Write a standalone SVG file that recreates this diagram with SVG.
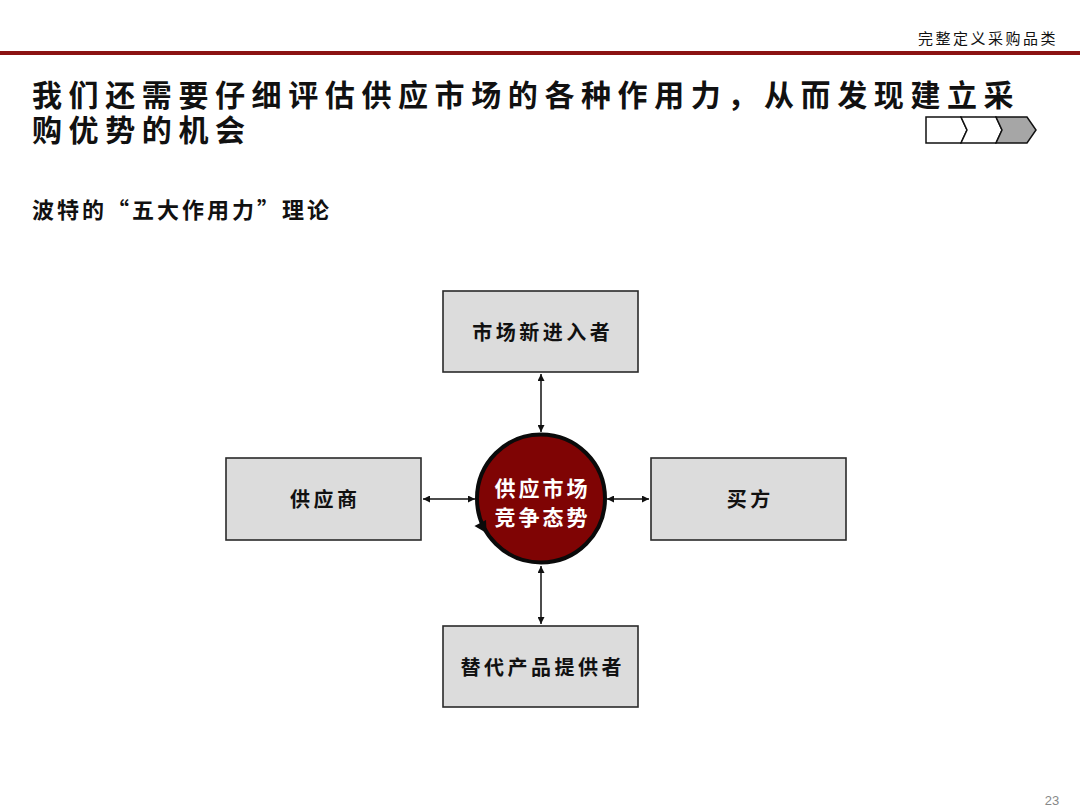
<svg xmlns="http://www.w3.org/2000/svg" width="1080" height="810" viewBox="0 0 1080 810">
<style>
.cjk{font-family:"Noto Sans CJK SC","Noto Sans CJK JP",sans-serif;font-weight:bold;fill:#111}
.box{fill:#dcdcdc;stroke:#2a2a2a;stroke-width:1.6}
.lbl{font-size:20px;letter-spacing:3.5px}
.conn{stroke:#111;stroke-width:1.5;fill:none;marker-start:url(#ah);marker-end:url(#ah)}
</style>
<defs>
<marker id="ah" viewBox="0 0 10 10" refX="10" refY="5" markerWidth="7" markerHeight="7" markerUnits="userSpaceOnUse" orient="auto-start-reverse">
<path d="M0,0 L10,5 L0,10 z" fill="#111"/>
</marker>
</defs>
<rect width="1080" height="810" fill="#fff"/>
<g id="header">
<text class="cjk" x="918" y="44" font-size="15" style="font-weight:normal;letter-spacing:2.5px">完整定义采购品类</text>
<rect x="0" y="51" width="1080" height="4" fill="#8b1212"/>
</g>
<g id="title">
<text class="cjk" x="32" y="106" font-size="30" letter-spacing="6.6">我们还需要仔细评估供应市场的各种作用力，从而发现建立采</text>
<text class="cjk" x="32" y="141" font-size="30" letter-spacing="6.6">购优势的机会</text>
</g>
<g id="progress" stroke="#111" stroke-width="1.5">
<path d="M926,117 L961,117 L967,130 L961,143 L926,143 Z" fill="#fff"/>
<path d="M961,117 L996,117 L1002,130 L996,143 L961,143 L967,130 Z" fill="#fff"/>
<path d="M996,117 L1027,117 L1036,130 L1027,143 L996,143 L1002,130 Z" fill="#a6a6a6"/>
</g>
<g id="subtitle">
<text class="cjk" x="32" y="218" font-size="22" letter-spacing="3">波特的“五大作用力”理论</text>
</g>
<g id="connectors">
<line class="conn" x1="541" y1="374" x2="541" y2="432"/>
<line class="conn" x1="541" y1="566" x2="541" y2="624"/>
<line class="conn" x1="423" y1="499" x2="475" y2="499"/>
<line class="conn" x1="607" y1="499" x2="649" y2="499"/>
</g>
<g id="node-top">
<rect class="box" x="443" y="291" width="195" height="81"/>
<text class="cjk lbl" x="542.75" y="340" text-anchor="middle">市场新进入者</text>
</g>
<g id="node-left">
<rect class="box" x="226" y="458" width="195" height="82"/>
<text class="cjk lbl" x="325.25" y="507" text-anchor="middle">供应商</text>
</g>
<g id="node-right">
<rect class="box" x="651" y="458" width="195" height="82"/>
<text class="cjk lbl" x="750.25" y="507" text-anchor="middle">买方</text>
</g>
<g id="node-bottom">
<rect class="box" x="443" y="626" width="195" height="81"/>
<text class="cjk lbl" x="542.75" y="675" text-anchor="middle">替代产品提供者</text>
</g>
<g id="node-center">
<circle cx="541" cy="498.5" r="64" fill="#7f0404" stroke="#0a0a0a" stroke-width="4"/>
<polygon points="479,520 490,527 479,534" fill="#0a0a0a" transform="rotate(-60 482 527)"/>
<text class="cjk" x="542.5" y="496" font-size="21" letter-spacing="3" text-anchor="middle" style="fill:#fff">供应市场</text>
<text class="cjk" x="542.5" y="525" font-size="21" letter-spacing="3" text-anchor="middle" style="fill:#fff">竞争态势</text>
</g>
<g id="page">
<text x="1052" y="805" font-family="Liberation Sans, Arial, sans-serif" font-size="13" fill="#888" text-anchor="middle">23</text>
</g>
</svg>
